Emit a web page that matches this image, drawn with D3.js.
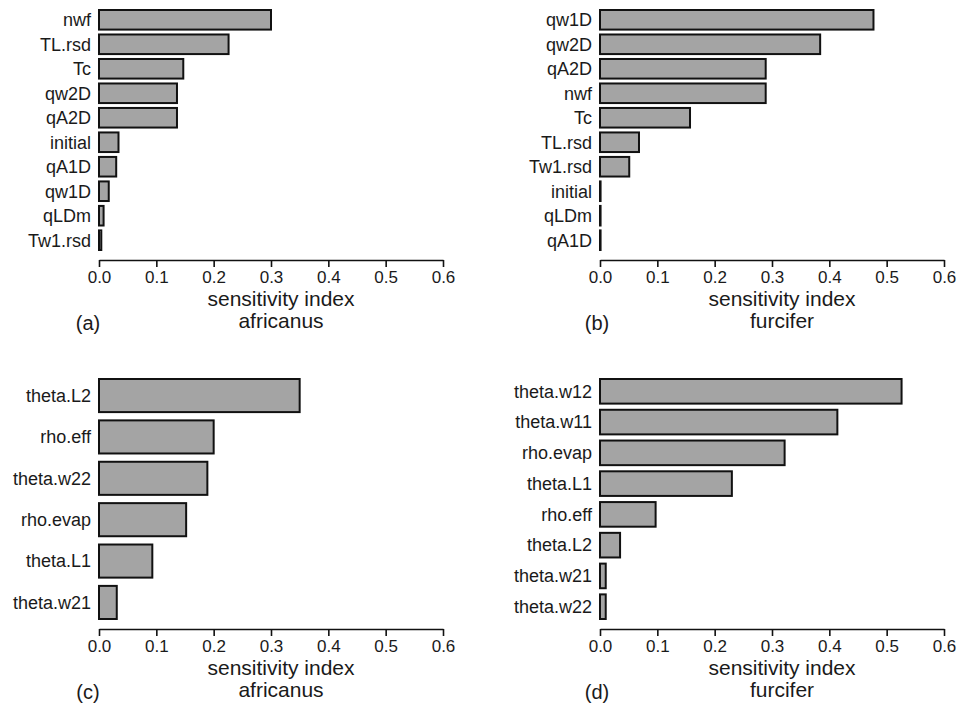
<!DOCTYPE html>
<html>
<head>
<meta charset="utf-8">
<script src="https://cdn.jsdelivr.net/npm/d3@7"></script>
<style>
  body { margin: 0; background: #fff; }
  text { font-family: "Liberation Sans", Arial, sans-serif; fill: #1a1a1a; }
</style>
</head>
<body>
<script>
// panel data, top to bottom
const catsA = ["nwf", "TL.rsd", "Tc", "qw2D", "qA2D", "initial", "qA1D", "qw1D", "qLDm", "Tw1.rsd"];
const valsA = [0.300, 0.226, 0.147, 0.136, 0.136, 0.034, 0.030, 0.017, 0.008, 0.004];

const catsB = ["qw1D", "qw2D", "qA2D", "nwf", "Tc", "TL.rsd", "Tw1.rsd", "initial", "qLDm", "qA1D"];
const valsB = [0.477, 0.384, 0.289, 0.289, 0.157, 0.068, 0.051, 0.001, 0.001, 0.001];

const catsC = ["theta.L2", "rho.eff", "theta.w22", "rho.evap", "theta.L1", "theta.w21"];
const valsC = [0.350, 0.200, 0.189, 0.152, 0.093, 0.031];

const catsD = ["theta.w12", "theta.w11", "rho.evap", "theta.L1", "rho.eff", "theta.L2", "theta.w21", "theta.w22"];
const valsD = [0.526, 0.414, 0.322, 0.230, 0.097, 0.035, 0.010, 0.010];

const xTicks = [0, 0.1, 0.2, 0.3, 0.4, 0.5, 0.6];
const titles = ["africanus", "furcifer", "africanus", "furcifer"];
const tags = ["(a)", "(b)", "(c)", "(d)"];

const svg = d3.select("body").append("svg")
  .attr("width", 960)
  .attr("height", 708);

// layout of each panel: x origin, top of bars, axis line y, label x
const PANELS = [
  { cats: catsA, vals: valsA, x0: 99,  top: 10,  axisY: 260, tagX: 88 },
  { cats: catsB, vals: valsB, x0: 600, top: 10,  axisY: 260, tagX: 597 },
  { cats: catsC, vals: valsC, x0: 99,  top: 379, axisY: 629, tagX: 88 },
  { cats: catsD, vals: valsD, x0: 600, top: 379, axisY: 629, tagX: 597 }
];
const AXIS_W = 344;
const BARS_H = 240;

PANELS.forEach((p, i) => {
  const g = svg.append("g");

  const x = d3.scaleLinear()
    .domain([0, 0.6])
    .range([p.x0, p.x0 + AXIS_W]);

  const y = d3.scaleBand()
    .domain(p.cats)
    .range([p.top, p.top + BARS_H])
    .paddingInner(0.2)
    .paddingOuter(0);

  // BARS
  g.selectAll("rect")
    .data(p.cats)
    .join("rect")
    .attr("x", x(0))
    .attr("y", d => y(d))
    .attr("width", (d, j) => x(p.vals[j]) - x(0))
    .attr("height", y.bandwidth())
    .style("fill", "#a4a4a4")
    .style("stroke", "#111")
    .style("stroke-width", 2);

  // CATEGORY LABELS
  g.selectAll("text.cat")
    .data(p.cats)
    .join("text")
    .attr("class", "cat")
    .attr("x", x(0) - 8)
    .attr("y", d => y(d) + y.bandwidth() / 2)
    .attr("dy", "0.35em")
    .attr("text-anchor", "end")
    .style("font-size", "18px")
    .text(d => d);

  // X AXIS
  const axis = g.append("g")
    .attr("transform", `translate(0,${p.axisY})`)
    .call(d3.axisBottom(x)
      .tickValues(xTicks)
      .tickFormat(d3.format(".1f"))
      .tickSize(7)
      .tickSizeOuter(0)
      .tickPadding(4));
  axis.select(".domain").style("stroke", "#111").style("stroke-width", 1.6);
  axis.selectAll(".tick line").style("stroke", "#111").style("stroke-width", 1.6);
  axis.selectAll(".tick text")
    .style("font-size", "17px")
    .style("font-family", "\"Liberation Sans\", Arial, sans-serif")
    .attr("fill", "#1a1a1a");

  // AXIS TITLE
  const cx = x(0.3) + 10;
  g.append("text")
    .attr("x", cx)
    .attr("y", p.axisY + 46)
    .attr("text-anchor", "middle")
    .style("font-size", "21px")
    .text("sensitivity index");
  g.append("text")
    .attr("x", cx)
    .attr("y", p.axisY + 68)
    .attr("text-anchor", "middle")
    .style("font-size", "21px")
    .text(titles[i]);

  // PANEL TAG
  g.append("text")
    .attr("x", p.tagX)
    .attr("y", p.axisY + 70)
    .attr("text-anchor", "middle")
    .style("font-size", "20px")
    .text(tags[i]);
});
</script>
</body>
</html>
